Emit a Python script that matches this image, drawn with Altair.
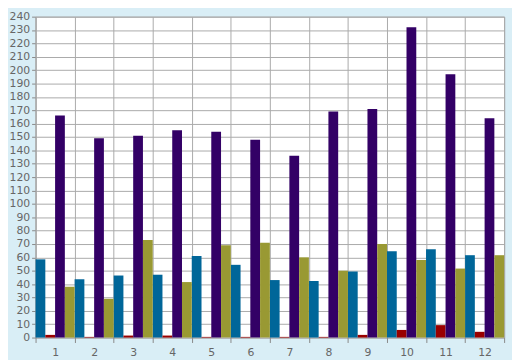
import altair as alt
import pandas as pd

groups = [str(i) for i in range(1, 13)]
series = ["blue", "red", "purple", "olive"]
colors = ["#006699", "#990000", "#330066", "#999933"]
blue = [58.5, 43.6, 46.4, 47, 61, 54.4, 43, 42.3, 49.4, 64.5, 66, 61.6]
red = [2, 0.5, 1.5, 1.5, 0.5, 0.5, 0.5, 0.5, 2, 5.7, 9.3, 4.3]
purple = [166, 149, 151, 155, 154, 148, 136, 169, 171, 232, 197, 164]
olive = [38, 29, 73, 41.5, 69, 71, 60, 50, 70, 58, 51.6, 61.6]

rows = []
for name, vals in zip(series, [blue, red, purple, olive]):
    for g, v in zip(groups, vals):
        rows.append({"group": g, "series": name, "value": v})
df = pd.DataFrame(rows)

chart = alt.Chart(df).mark_bar().encode(
    x=alt.X("group:N", sort=groups,
            scale=alt.Scale(paddingInner=0, paddingOuter=0),
            axis=alt.Axis(title=None, labelAngle=0, tickBand="extent",
                          grid=True, gridColor="#aaaaaa", domain=False,
                          tickColor="#888888", tickSize=5, labelPadding=4,
                          labelColor="#666666", labelFontSize=11,
                          labelFont="DejaVu Sans")),
    xOffset=alt.XOffset("series:N", sort=series,
                        scale=alt.Scale(paddingInner=0, paddingOuter=0)),
    y=alt.Y("value:Q", scale=alt.Scale(domain=[0, 240], nice=False),
            axis=alt.Axis(title=None, values=list(range(0, 241, 10)),
                          grid=True, gridColor="#aaaaaa", domain=True,
                          domainColor="#aaaaaa", tickColor="#888888",
                          tickSize=4, labelPadding=2,
                          labelColor="#666666", labelFontSize=11,
                          labelFont="DejaVu Sans")),
    color=alt.Color("series:N", sort=series,
                    scale=alt.Scale(domain=series, range=colors),
                    legend=None),
).properties(
    width=476, height=326,
    autosize=alt.AutoSizeParams(type="none"),
    padding={"left": 28, "top": 6, "right": 8, "bottom": 20},
    background="#d9eef6",
).configure_view(fill="white", stroke="#aaaaaa", strokeWidth=1)

chart.save("out.html", embed_options={"renderer": "svg", "actions": False})
